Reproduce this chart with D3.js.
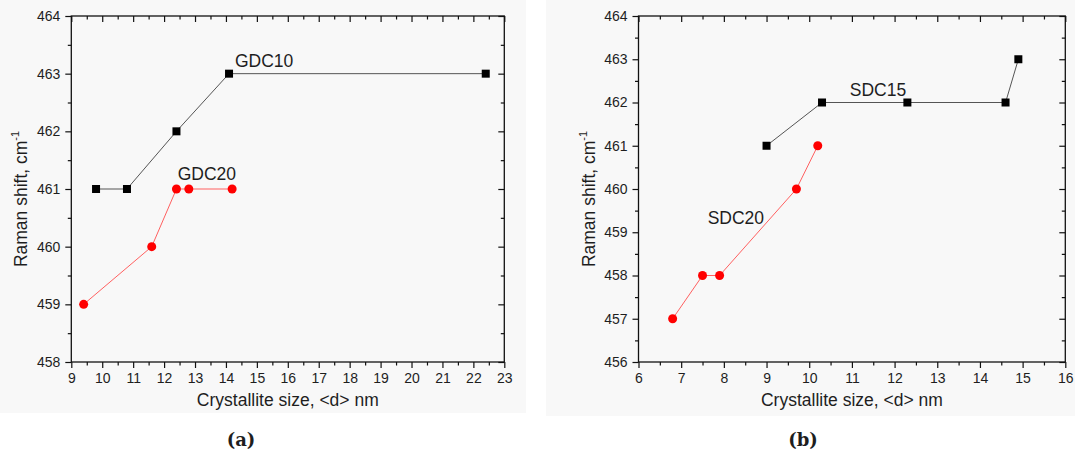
<!DOCTYPE html>
<html>
<head>
<meta charset="utf-8">
<script src="https://cdn.jsdelivr.net/npm/d3@7"></script>
<style>
  html, body { margin: 0; padding: 0; background: #ffffff; }
  svg { display: block; }
  text { font-family: "Liberation Sans", Arial, sans-serif; fill: #1e1e1e; }
</style>
</head>
<body>
<svg id="fig" width="1075" height="454"></svg>
<script>
// Panel (a): gadolinium-doped ceria
const gdc10Size  = [9.8, 10.8, 12.4, 14.1, 22.4];
const gdc10Shift = [461, 461, 462, 463, 463];
const gdc20Size  = [9.4, 11.6, 12.4, 12.8, 14.2];
const gdc20Shift = [459, 460, 461, 461, 461];

// Panel (b): samarium-doped ceria
const sdc15Size  = [9.0, 10.3, 12.3, 14.6, 14.9];
const sdc15Shift = [461, 462, 462, 462, 463];
const sdc20Size  = [6.8, 7.5, 7.9, 9.7, 10.2];
const sdc20Shift = [457, 458, 458, 460, 461];

// Axis ticks
const xTicksA = [9, 10, 11, 12, 13, 14, 15, 16, 17, 18, 19, 20, 21, 22, 23];
const yTicksA = [458, 459, 460, 461, 462, 463, 464];
const xTicksB = [6, 7, 8, 9, 10, 11, 12, 13, 14, 15, 16];
const yTicksB = [456, 457, 458, 459, 460, 461, 462, 463, 464];

// Series name labels, anchored in data units
const labelsA = [
  { text: "GDC10", x: 14.29, y: 463.11 },
  { text: "GDC20", x: 12.44, y: 461.16 }
];
const labelsB = [
  { text: "SDC15", x: 10.95, y: 462.15 },
  { text: "SDC20", x: 7.62,  y: 459.19 }
];

const svg = d3.select("#fig");

function zip(xs, ys) { return xs.map((x, i) => ({ x: x, y: ys[i] })); }
function halves(ticks) {
  const out = [];
  for (let i = 0; i < ticks.length - 1; i++) out.push((ticks[i] + ticks[i + 1]) / 2);
  return out;
}

function drawPanel(opt) {
  const g = svg.append("g");

  // light panel background
  g.append("rect")
    .attr("x", opt.bg[0]).attr("y", opt.bg[1])
    .attr("width", opt.bg[2]).attr("height", opt.bg[3])
    .attr("fill", "#f8f8f8");

  const x = d3.scaleLinear()
    .domain([opt.xTicks[0], opt.xTicks[opt.xTicks.length - 1]])
    .range([opt.left, opt.right]);
  const y = d3.scaleLinear()
    .domain([opt.yTicks[0], opt.yTicks[opt.yTicks.length - 1]])
    .range([opt.bottom, opt.top]);

  const styleAxis = sel => {
    sel.selectAll(".domain").remove();
    sel.selectAll("line").attr("stroke", "#111").attr("stroke-width", 1.2);
    sel.selectAll("text")
      .style("font-family", '"Liberation Sans", Arial, sans-serif')
      .style("font-size", "14px")
      .attr("fill", "#1e1e1e");
  };

  // bottom axis: outward ticks with labels
  g.append("g").attr("transform", `translate(0,${opt.bottom})`)
    .call(d3.axisBottom(x).tickValues(opt.xTicks).tickSize(6).tickPadding(5).tickFormat(d3.format("d")))
    .call(styleAxis);
  g.append("g").attr("transform", `translate(0,${opt.bottom})`)
    .call(d3.axisBottom(x).tickValues(halves(opt.xTicks)).tickSize(3.5).tickFormat(""))
    .call(styleAxis);

  // left axis: outward ticks with labels
  g.append("g").attr("transform", `translate(${opt.left},0)`)
    .call(d3.axisLeft(y).tickValues(opt.yTicks).tickSize(6).tickPadding(5).tickFormat(d3.format("d")))
    .call(styleAxis);
  g.append("g").attr("transform", `translate(${opt.left},0)`)
    .call(d3.axisLeft(y).tickValues(halves(opt.yTicks)).tickSize(3.5).tickFormat(""))
    .call(styleAxis);

  // top axis: inward ticks, no labels
  g.append("g").attr("transform", `translate(0,${opt.top})`)
    .call(d3.axisBottom(x).tickValues(opt.xTicks).tickSize(6).tickFormat(""))
    .call(styleAxis);
  g.append("g").attr("transform", `translate(0,${opt.top})`)
    .call(d3.axisBottom(x).tickValues(halves(opt.xTicks)).tickSize(3.5).tickFormat(""))
    .call(styleAxis);

  // right axis: inward ticks, no labels
  g.append("g").attr("transform", `translate(${opt.right},0)`)
    .call(d3.axisLeft(y).tickValues(opt.yTicks).tickSize(6).tickFormat(""))
    .call(styleAxis);
  g.append("g").attr("transform", `translate(${opt.right},0)`)
    .call(d3.axisLeft(y).tickValues(halves(opt.yTicks)).tickSize(3.5).tickFormat(""))
    .call(styleAxis);

  // frame
  g.append("rect")
    .attr("x", opt.left).attr("y", opt.top)
    .attr("width", opt.right - opt.left).attr("height", opt.bottom - opt.top)
    .attr("fill", "none").attr("stroke", "#111").attr("stroke-width", 1.3);

  const line = d3.line().x(d => x(d.x)).y(d => y(d.y));

  // black square series
  const black = zip(opt.blackX, opt.blackY);
  g.append("path").datum(black)
    .attr("d", line).attr("fill", "none")
    .attr("stroke", "#555555").attr("stroke-width", 1);
  g.selectAll(".sq").data(black).enter().append("rect")
    .attr("x", d => x(d.x) - 4).attr("y", d => y(d.y) - 4)
    .attr("width", 8).attr("height", 8)
    .attr("fill", "#000");

  // red circle series
  const red = zip(opt.redX, opt.redY);
  g.append("path").datum(red)
    .attr("d", line).attr("fill", "none")
    .attr("stroke", "#ff6060").attr("stroke-width", 1);
  g.selectAll(".ci").data(red).enter().append("circle")
    .attr("cx", d => x(d.x)).attr("cy", d => y(d.y))
    .attr("r", 4.5)
    .attr("fill", "#ff0000");

  // series names
  g.selectAll(".lbl").data(opt.labels).enter().append("text")
    .attr("x", d => x(d.x)).attr("y", d => y(d.y))
    .style("font-size", "17.5px")
    .text(d => d.text);

  // axis titles
  const cx = (opt.left + opt.right) / 2;
  g.append("text")
    .attr("x", cx).attr("y", opt.bottom + 44)
    .attr("text-anchor", "middle")
    .style("font-size", "17.5px")
    .text("Crystallite size, <d> nm");

  const yt = g.append("text")
    .attr("transform", `translate(${opt.left - 44},${(opt.top + opt.bottom) / 2 + 10}) rotate(-90)`)
    .attr("text-anchor", "middle")
    .style("font-size", "17.5px");
  yt.append("tspan").text("Raman shift, cm");
  yt.append("tspan").attr("dy", -8).style("font-size", "11px").text("-1");

  // panel letter
  g.append("text")
    .attr("x", opt.letterX).attr("y", 446)
    .attr("text-anchor", "middle")
    .style("font-family", '"DejaVu Serif", "Liberation Serif", serif')
    .style("font-weight", "bold")
    .style("font-size", "18px")
    .attr("fill", "#000")
    .text(opt.letter);
}

drawPanel({
  left: 71.3, right: 504.3, top: 16, bottom: 362,
  bg: [0, 0, 526, 413],
  xTicks: xTicksA, yTicks: yTicksA,
  blackX: gdc10Size, blackY: gdc10Shift,
  redX: gdc20Size, redY: gdc20Shift,
  labels: labelsA,
  letter: "(a)", letterX: 241
});

drawPanel({
  left: 638.5, right: 1065.3, top: 16, bottom: 362,
  bg: [546, 0, 529, 416],
  xTicks: xTicksB, yTicks: yTicksB,
  blackX: sdc15Size, blackY: sdc15Shift,
  redX: sdc20Size, redY: sdc20Shift,
  labels: labelsB,
  letter: "(b)", letterX: 803
});
</script>
</body>
</html>
